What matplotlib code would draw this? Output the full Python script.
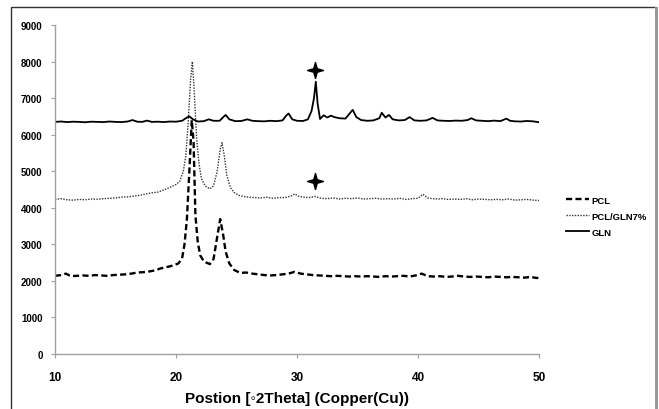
import matplotlib
matplotlib.use("Agg")
import matplotlib.pyplot as plt
from matplotlib.path import Path
from matplotlib.patches import Rectangle

plt.rcParams['font.family'] = ['Liberation Sans', 'DejaVu Sans']

# ---- data ----
gln_x = [10, 10.5, 11, 11.5, 12, 12.5, 13, 13.5, 14, 14.5, 15, 15.5, 16, 16.4, 16.8, 17.2, 17.6, 18.0,
         18.5, 19, 19.5, 20, 20.5, 20.9, 21.1, 21.4, 21.8, 22.3, 22.7, 23.1, 23.6, 23.9, 24.1, 24.4,
         24.9, 25.4, 25.9, 26.3, 26.8, 27.3, 27.8, 28.3, 28.8, 29.1, 29.3, 29.6, 30.0, 30.5, 30.9,
         31.2, 31.4, 31.55, 31.7, 31.9, 32.2, 32.5, 32.8, 33.1, 33.5, 34.0, 34.3, 34.6, 34.9, 35.3,
         35.8, 36.3, 36.8, 37.0, 37.3, 37.6, 37.9, 38.4, 38.9, 39.3, 39.7, 40.2, 40.7, 41.2, 41.6,
         42.1, 42.6, 43.1, 43.6, 44.1, 44.4, 44.8, 45.3, 45.8, 46.3, 46.8, 47.3, 47.6, 48.0, 48.5,
         49.0, 49.5, 50.0]
gln_y = [6350, 6360, 6345, 6355, 6350, 6340, 6355, 6350, 6345, 6360, 6350, 6345, 6360, 6400, 6355,
         6350, 6385, 6350, 6355, 6345, 6360, 6355, 6380, 6470, 6500, 6420, 6360, 6370, 6420, 6380,
         6380, 6480, 6540, 6420, 6370, 6375, 6420, 6380, 6370, 6365, 6380, 6370, 6390, 6520, 6580,
         6420, 6380, 6375, 6420, 6650, 7000, 7450, 6850, 6430, 6530, 6470, 6520, 6480, 6450, 6440,
         6560, 6680, 6480, 6400, 6380, 6390, 6450, 6600, 6470, 6540, 6420, 6390, 6400, 6480, 6390,
         6380, 6390, 6460, 6390, 6380, 6375, 6385, 6380, 6400, 6450, 6390, 6380, 6370, 6385, 6370,
         6440, 6380, 6365, 6360, 6375, 6365, 6340]

mix_x = [10, 10.5, 11, 11.5, 12, 12.5, 13, 13.5, 14, 14.5, 15, 15.5, 16, 16.5, 17, 17.5, 18, 18.5,
         19, 19.5, 20, 20.3, 20.6, 20.8, 21.0, 21.2, 21.35, 21.5, 21.7, 21.9, 22.1, 22.4, 22.8, 23.1,
         23.4, 23.65, 23.8, 24.0, 24.2, 24.5, 24.8, 25.2, 25.6, 26.0, 26.5, 27, 27.5, 28, 28.5, 29,
         29.5, 29.8, 30.1, 30.5, 31, 31.5, 32, 32.5, 33, 33.5, 34, 34.5, 35, 35.5, 36, 36.5, 37, 37.5,
         38, 38.5, 39, 39.5, 40, 40.4, 40.8, 41.2, 41.6, 42, 42.5, 43, 43.5, 44, 44.5, 45, 45.5, 46,
         46.5, 47, 47.5, 48, 48.5, 49, 49.5, 50]
mix_y = [4230, 4250, 4220, 4210, 4230, 4220, 4240, 4235, 4250, 4260, 4270, 4290, 4300, 4320, 4340,
         4380, 4410, 4430, 4490, 4560, 4640, 4720, 5000, 5400, 6300, 7500, 8000, 7200, 5900, 5200,
         4800, 4600, 4520, 4600, 5000, 5600, 5780, 5400, 4880, 4550, 4420, 4340, 4310, 4290, 4280,
         4270, 4290, 4260, 4280, 4280, 4320, 4380, 4320, 4290, 4280, 4310, 4260, 4250, 4270, 4240,
         4260, 4250, 4270, 4240, 4250, 4260, 4240, 4250, 4240, 4260, 4230, 4250, 4260, 4370, 4270,
         4250, 4240, 4250, 4230, 4240, 4230, 4250, 4220, 4240, 4230, 4220, 4230, 4220, 4240, 4210,
         4220, 4230, 4210, 4200]

pcl_x = [10, 10.5, 10.9, 11.3, 11.8, 12.3, 12.8, 13.3, 13.8, 14.3, 14.8, 15.3, 15.8, 16.3, 16.8,
         17.3, 17.8, 18.3, 18.7, 19.1, 19.5, 19.9, 20.2, 20.5, 20.7, 20.9, 21.1, 21.3, 21.45, 21.6,
         21.8, 22.0, 22.3, 22.8, 23.1, 23.4, 23.65, 23.9, 24.1, 24.4, 24.8, 25.3, 25.8, 26.3, 26.8,
         27.3, 27.8, 28.3, 28.8, 29.3, 29.8, 30.3, 30.8, 31.3, 31.8, 32.3, 32.8, 33.3, 33.8, 34.3,
         34.8, 35.3, 35.8, 36.3, 36.8, 37.3, 37.8, 38.3, 38.8, 39.3, 39.8, 40.3, 40.8, 41.3, 41.8,
         42.3, 42.8, 43.3, 43.8, 44.3, 44.8, 45.3, 45.8, 46.3, 46.8, 47.3, 47.8, 48.3, 48.8, 49.3,
         49.8, 50]
pcl_y = [2140, 2160, 2200, 2130, 2140, 2150, 2140, 2160, 2150, 2140, 2160, 2170, 2180, 2200, 2230,
         2240, 2260, 2290, 2340, 2370, 2400, 2440, 2480, 2620, 3000, 3700, 5000, 6400, 5800, 3800,
         3050, 2700, 2530, 2460, 2600, 3200, 3690, 3250, 2800, 2480, 2300, 2220, 2230, 2200, 2180,
         2160, 2150, 2160, 2180, 2200, 2250, 2200, 2180, 2160, 2150, 2140, 2130, 2140, 2130, 2120,
         2130, 2120, 2130, 2120, 2110, 2130, 2120, 2130, 2140, 2120, 2150, 2200, 2130, 2120, 2130,
         2110, 2120, 2140, 2120, 2110, 2120, 2110, 2100, 2120, 2110, 2100, 2110, 2100, 2090, 2110,
         2080, 2090]

star_x = [31.5, 31.5]
star_y = [7770, 4730]

x_ticks = [10, 20, 30, 40, 50]
y_ticks = [0, 1000, 2000, 3000, 4000, 5000, 6000, 7000, 8000, 9000]

# ---- figure ----
fig = plt.figure(figsize=(6.59, 4.10), dpi=100)
ax = fig.add_axes([0.0835, 0.134, 0.7345, 0.8026])

ax.plot(pcl_x, pcl_y, color='black', lw=1.7, linestyle=(0, (2.6, 1.4)), label='PCL')
ax.plot(mix_x, mix_y, color='#333333', lw=1.0, linestyle=(0, (1, 1)), label='PCL/GLN7%')
ax.plot(gln_x, gln_y, color='black', lw=1.3, label='GLN')

star = Path([(0, 1), (0.22, 0.22), (1, 0), (0.22, -0.22), (0, -1), (-0.22, -0.22), (-1, 0),
             (-0.22, 0.22), (0, 1)],
            [Path.MOVETO] + [Path.LINETO] * 7 + [Path.CLOSEPOLY])
ax.plot(star_x, star_y, linestyle='none', marker=star, markersize=11.5, color='black')

ax.set_xlim(10, 50)
ax.set_ylim(0, 9000)
ax.set_xticks(x_ticks)
ax.set_yticks(y_ticks)
ax.set_xticklabels([str(v) for v in x_ticks], fontsize=8.5, fontweight='bold')
ax.set_yticklabels([str(v) for v in y_ticks], fontsize=7.0, fontweight='bold')
ax.tick_params(axis='x', length=3, color='#a0a0a0', pad=9)
ax.tick_params(axis='y', length=3, color='#a0a0a0', pad=6)
for s in ['top', 'right']:
    ax.spines[s].set_visible(False)
for s in ['left', 'bottom']:
    ax.spines[s].set_color('#a0a0a0')
    ax.spines[s].set_linewidth(1.0)

ax.set_xlabel('Postion [\u25e62Theta] (Copper(Cu))', fontsize=11, fontweight='bold', labelpad=6)

leg = ax.legend(loc='upper left', bbox_to_anchor=(1.045, 0.496), frameon=False, fontsize=6.8,
                handlelength=2.5, handletextpad=0.25, labelspacing=0.75, borderpad=0)
for t in leg.get_texts():
    t.set_fontweight('bold')

# outer frame
fig.patches.append(Rectangle((11 / 659, -0.02), (656 - 11) / 659, 1.0 - 8 / 410 + 0.02,
                             transform=fig.transFigure, fill=False, edgecolor='#333333', lw=1.0))
fig.patches.append(Rectangle((655 / 659, -0.02), 2.5 / 659, 1.0, transform=fig.transFigure,
                             color='#999999', lw=0))

fig.savefig('out.png', dpi=100)
